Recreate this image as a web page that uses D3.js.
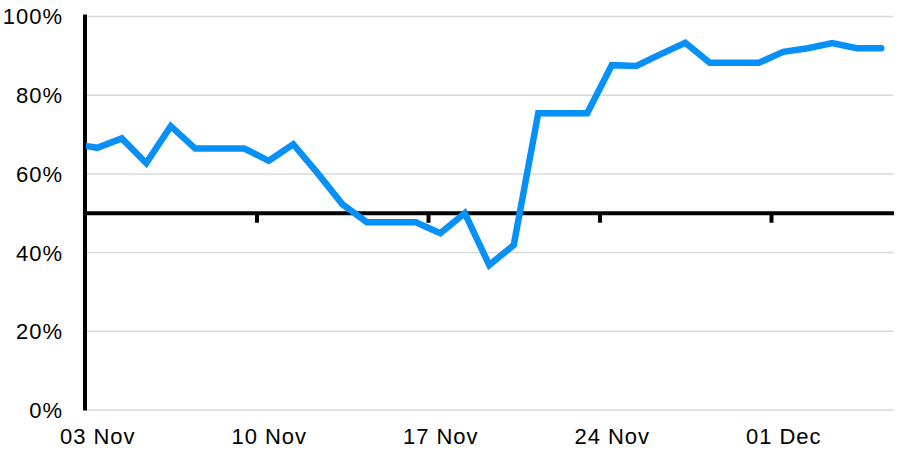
<!DOCTYPE html>
<html>
<head>
<meta charset="utf-8">
<script src="https://cdn.jsdelivr.net/npm/d3@7"></script>
<style>
  html, body { margin: 0; padding: 0; background: #fff; }
  svg { display: block; }
  text { font-family: "Liberation Sans", Arial, sans-serif; fill: #000; letter-spacing: 1px; }
</style>
</head>
<body>
<svg id="chart" width="898" height="451"></svg>
<script>
// ---- data ----
const dates = [
  "2023-11-02","2023-11-03","2023-11-04","2023-11-05","2023-11-06","2023-11-07",
  "2023-11-08","2023-11-09","2023-11-10","2023-11-11","2023-11-12","2023-11-13",
  "2023-11-14","2023-11-15","2023-11-16","2023-11-17","2023-11-18","2023-11-19",
  "2023-11-20","2023-11-21","2023-11-22","2023-11-23","2023-11-24","2023-11-25",
  "2023-11-26","2023-11-27","2023-11-28","2023-11-29","2023-11-30","2023-12-01",
  "2023-12-02","2023-12-03","2023-12-04","2023-12-05"
];
const values = [
  67.5, 66.5, 68.9, 62.6, 72.0, 66.3,
  66.3, 66.3, 63.2, 67.4, 60.0, 52.2,
  47.6, 47.6, 47.6, 44.8, 49.9, 36.7,
  41.8, 75.3, 75.3, 75.3, 87.5, 87.3,
  90.3, 93.2, 88.1, 88.1, 88.1, 90.9,
  91.8, 93.1, 91.8, 91.8
];
const xTickDates = ["2023-11-03","2023-11-10","2023-11-17","2023-11-24","2023-12-01"];
const xTickLabels = ["03 Nov","10 Nov","17 Nov","24 Nov","01 Dec"];
const yTicks = [0, 20, 40, 60, 80, 100];
const refLevel = 50;

// ---- setup ----
const parse = d3.timeParse("%Y-%m-%d");
const noon = s => d3.timeHour.offset(parse(s), 12);
const svg = d3.select("#chart");
const mLeft = 85, mRight = 893.5, mTop = 16, mBottom = 409.5;

const x = d3.scaleTime()
  .domain([parse("2023-11-03"), parse("2023-12-06")])
  .range([mLeft, mRight]);
const y = d3.scaleLinear().domain([0, 100]).range([mBottom, mTop]);

// gridlines + y labels
const yAxis = d3.axisLeft(y)
  .tickValues(yTicks)
  .tickFormat(d => d + "%")
  .tickSize(-(mRight - mLeft))
  .tickPadding(22);
const gy = svg.append("g").attr("transform", `translate(${mLeft},0)`).call(yAxis);
gy.select(".domain").remove();
gy.selectAll(".tick line").attr("stroke", "#d9d9d9").attr("stroke-width", 1.5);
gy.selectAll(".tick text").attr("font-size", 22).attr("dy", "0.36em").attr("fill", "#000");

// 50% axis with week ticks
const midAxis = d3.axisBottom(x)
  .tickValues(xTickDates.slice(1).map(parse))
  .tickFormat("")
  .tickSizeInner(10)
  .tickSizeOuter(0);
const gm = svg.append("g").attr("transform", `translate(0,${y(refLevel)})`).call(midAxis);
gm.select(".domain").attr("stroke", "#000").attr("stroke-width", 4);
gm.selectAll(".tick line").attr("stroke", "#000").attr("stroke-width", 4);

// bottom labels (centered on the day)
const labelAxis = d3.axisBottom(x)
  .tickValues(xTickDates.map(noon))
  .tickFormat((d, i) => xTickLabels[i])
  .tickSize(0)
  .tickPadding(19);
const gl = svg.append("g").attr("transform", `translate(0,${mBottom})`).call(labelAxis);
gl.select(".domain").remove();
gl.selectAll(".tick text").attr("font-size", 22).attr("fill", "#000");

// y axis line
svg.append("line")
  .attr("x1", mLeft).attr("x2", mLeft)
  .attr("y1", y(100) - 1.5).attr("y2", y(0) + 1)
  .attr("stroke", "#000").attr("stroke-width", 4);

// clip
svg.append("clipPath").attr("id", "plotclip")
  .append("rect").attr("x", mLeft + 1).attr("y", 0)
  .attr("width", 898 - mLeft).attr("height", 451);

// line
const data = dates.map((d, i) => ({ date: noon(d), value: values[i] }));
const line = d3.line().x(d => x(d.date)).y(d => y(d.value));
svg.append("path")
  .datum(data)
  .attr("clip-path", "url(#plotclip)")
  .attr("d", line)
  .attr("fill", "none")
  .attr("stroke", "#0791F8")
  .attr("stroke-width", 6.5)
  .attr("stroke-linejoin", "miter")
  .attr("stroke-linecap", "round");
</script>
</body>
</html>
